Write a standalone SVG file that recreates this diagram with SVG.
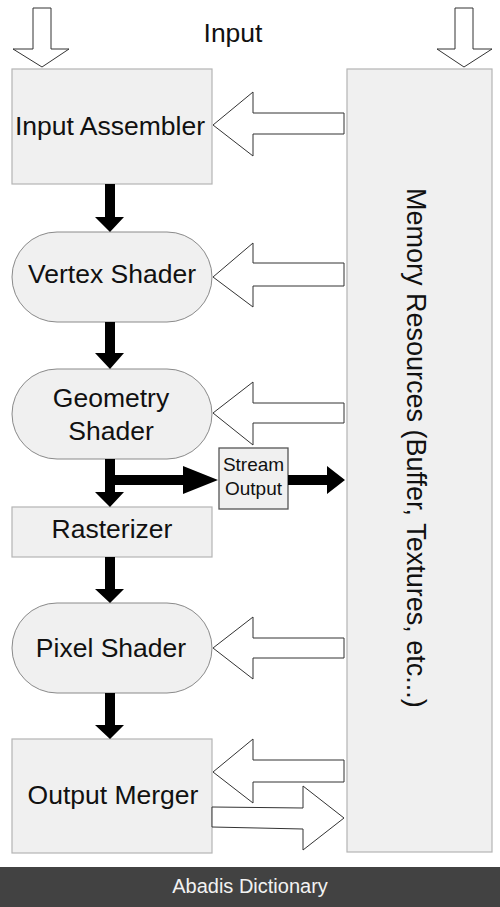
<svg xmlns="http://www.w3.org/2000/svg" width="500" height="907" viewBox="0 0 500 907">
<style>
.box{fill:#f0f0f0;stroke:#b4b4b4;stroke-width:1.2}
.stad{fill:#f0f0f0;stroke:#8a8a8a;stroke-width:1}
.hollow{fill:#ffffff;stroke:#333333;stroke-width:1;stroke-linejoin:miter}
.blk{fill:#000000;stroke:none}
.t{font-family:"Liberation Sans",Arial,sans-serif;font-size:26.5px;fill:#111111;text-anchor:middle}
.ts{font-family:"Liberation Sans",Arial,sans-serif;font-size:19px;fill:#111111;text-anchor:middle}
</style>
<rect x="0" y="0" width="500" height="907" fill="#ffffff"/>

<g id="memory">
<rect class="box" x="347" y="69" width="145" height="783"/>
<text class="t" style="text-anchor:start;font-size:27px" transform="translate(407,188) rotate(90)">Memory Resources (Buffer, Textures, etc...)</text>
</g>

<g id="input-label"><text class="t" x="233" y="42">Input</text></g>

<g id="input-assembler">
<rect class="box" x="12" y="69" width="200" height="115"/>
<text class="t" x="110" y="135">Input Assembler</text>
</g>

<g id="vertex-shader">
<rect class="stad" x="12" y="232" width="200" height="90" rx="45" ry="45"/>
<text class="t" x="112" y="283">Vertex Shader</text>
</g>

<g id="geometry-shader">
<rect class="stad" x="12" y="369" width="200" height="90" rx="45" ry="45"/>
<text class="t" x="111" y="407">Geometry</text>
<text class="t" x="111" y="440">Shader</text>
</g>

<g id="stream-output">
<rect x="219" y="448" width="69" height="61" fill="#f0f0f0" stroke="#555555" stroke-width="1.3"/>
<text class="ts" x="253.5" y="471">Stream</text>
<text class="ts" x="253.5" y="495">Output</text>
</g>

<g id="rasterizer">
<rect class="box" x="12" y="507" width="200" height="50"/>
<text class="t" x="112" y="538">Rasterizer</text>
</g>

<g id="pixel-shader">
<rect class="stad" x="12" y="603" width="200" height="90" rx="45" ry="45"/>
<text class="t" x="111" y="657">Pixel Shader</text>
</g>

<g id="output-merger">
<rect class="box" x="12" y="739" width="200" height="114"/>
<text class="t" x="113" y="804">Output Merger</text>
</g>

<g id="connectors">
<polygon class="hollow" points="33,8 51,8 51,49 69,49 42,67 13,49 33,49"/>
<polygon class="hollow" points="455,8 473,8 473,49 492,49 464,67 437,49 455,49"/>
<polygon class="hollow" points="344,113 344,134 253,134 253,156 213,125 253,92 253,113"/>
<polygon class="hollow" points="344,263 344,286 253,286 253,307 213,277 253,243 253,263"/>
<polygon class="hollow" points="344,403 344,423 253,423 253,445 213,413 253,382 253,403"/>
<polygon class="hollow" points="344,638 344,658 253,658 253,679 213,648 253,617 253,638"/>
<polygon class="hollow" points="344,760 344,782 253,782 253,803 213,772 253,739 253,760"/>
<polygon class="hollow" points="212,807 303,808 303,786 344,818 303,850 303,829 212,827"/>
<polygon class="blk" points="105,184 115,184 115,217 124,217 110,232 95,217 105,217"/>
<polygon class="blk" points="105,322 115,322 115,353 124,353 110,369 95,353 105,353"/>
<polygon class="blk" points="105,459 115,459 115,492 124,492 110,507 95,492 105,492"/>
<polygon class="blk" points="115,475 183,475 183,466 218,480 183,494 183,485 115,485"/>
<polygon class="blk" points="288,475 327,475 327,466 345,480 327,494 327,485 288,485"/>
<polygon class="blk" points="105,557 115,557 115,589 124,589 110,603 95,589 105,589"/>
<polygon class="blk" points="105,693 115,693 115,725 124,725 110,739 95,725 105,725"/>
</g>

<g id="footer">
<rect x="0" y="867" width="500" height="40" fill="#424242"/>
<text x="250" y="893" font-family="Liberation Sans, Arial, sans-serif" font-size="20" fill="#f2f2f2" text-anchor="middle">Abadis Dictionary</text>
</g>
</svg>
